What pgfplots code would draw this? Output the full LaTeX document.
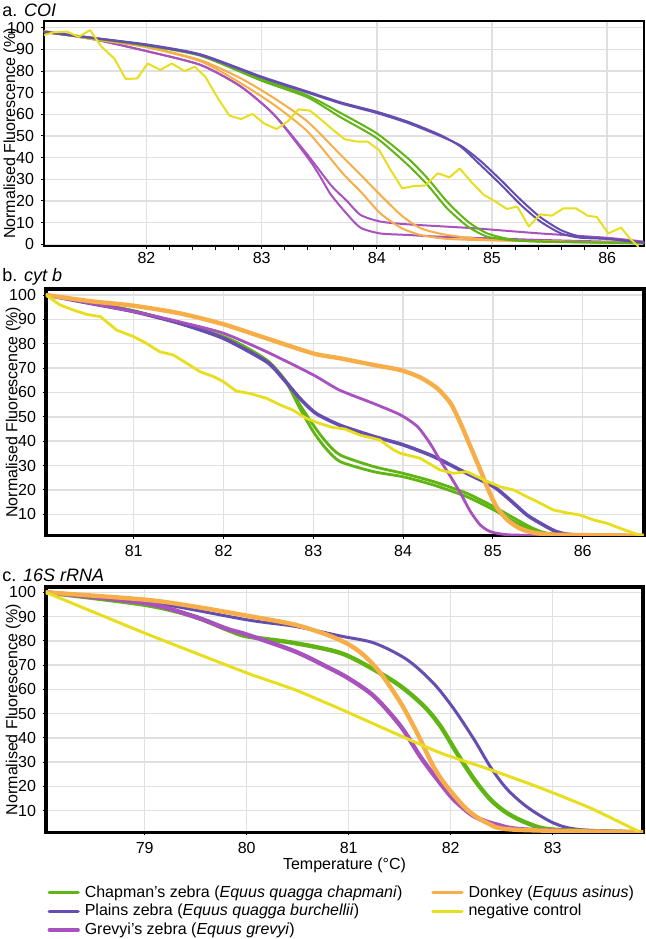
\documentclass[border=0pt]{standalone}
\usepackage{fontspec}
\setmainfont{Liberation Sans}
\usepackage{pgfplots}
\pgfplotsset{compat=1.18}
\definecolor{cgreen}{RGB}{96,180,20}
\definecolor{cplains}{RGB}{102,78,176}
\definecolor{cgrevy}{RGB}{168,82,190}
\definecolor{cdonkey}{RGB}{247,174,72}
\definecolor{cneg}{RGB}{232,222,32}
\definecolor{cgrid}{RGB}{224,224,224}
\pgfplotsset{
  melt/.style={
    scale only axis,
    anchor=south west,
    grid=major,
    major grid style={draw=cgrid, line width=0.7pt},
    axis line style={black},
    tick style={black, line width=0.5pt},
    tick align=outside,
    major tick length=1.5pt,
    xtick pos=bottom, ytick pos=left,
    tick label style={font=\fontsize{8}{9}\selectfont},
    /pgf/number format/assume math mode=true,
    ylabel={Normalised Fluorescence (\%)},
    every axis y label/.style={at={(axis description cs:-0.055,0.5)}, rotate=90, anchor=center, font=\fontsize{8}{9}\selectfont},
    every axis plot/.append style={line join=round, line cap=round},
  }
}
\begin{document}
\begin{tikzpicture}
\path[use as bounding box] (0,0) rectangle (323pt,-469.5pt);
\node[anchor=west, font=\fontsize{9}{10}\selectfont, inner sep=0pt] at (1pt,-5pt) {a. \textit{COI}};
\node[anchor=west, font=\fontsize{9}{10}\selectfont, inner sep=0pt] at (1pt,-138.5pt) {b. \textit{cyt b}};
\node[anchor=west, font=\fontsize{9}{10}\selectfont, inner sep=0pt] at (1pt,-287.5pt) {c. \textit{16S rRNA}};

% ---------------- panel a
\begin{axis}[melt, at={(22pt,-123pt)}, width=300pt, height=112.5pt,
  xmin=81.11, xmax=86.32, ymin=-0.8, ymax=103.1,
  xtick={82,83,84,85,86}, ytick={0,10,...,100},
  minor x tick num=4, minor tick length=2pt,
  xticklabel style={yshift=2pt},
  axis line style={line width=1pt},
  every axis plot/.append style={line width=1pt}]
% Grevyi
\addplot[cgrevy, smooth, tension=0.4] coordinates {(81.11,98) (81.51,95) (82,89.2) (82.47,82.8) (82.82,72.8) (83.11,59.7) (83.4,41.2) (83.6,27.4) (83.74,20) (83.86,13.5) (84.03,10.5) (84.27,9.2) (84.84,7.4) (85.42,5) (86,3) (86.32,1.2)};
\addplot[cgrevy, smooth, tension=0.4] coordinates {(81.11,98) (81.51,95) (82,89.2) (82.47,82.8) (82.82,72.8) (83.11,59.7) (83.4,40) (83.5,32) (83.6,23) (83.74,14) (83.86,7.6) (84.03,5) (84.27,4.3) (84.55,3.5) (85.42,2) (86.32,0.8)};
% Donkey
\addplot[cdonkey, smooth, tension=0.4] coordinates {(81.11,98.5) (81.5,95) (82,91.2) (82.47,85) (82.82,76.6) (83.11,67.4) (83.4,56.6) (83.7,40.5) (83.86,32) (84.03,22.8) (84.21,13.5) (84.38,7.4) (84.61,4.3) (85,2) (85.7,1.2) (86.32,0.5)};
\addplot[cdonkey, smooth, tension=0.4] coordinates {(81.11,98.5) (81.5,95) (82,91) (82.47,84.5) (82.82,74.3) (83.11,64.3) (83.4,52) (83.7,33) (83.86,24.3) (84.03,14.3) (84.21,7.6) (84.38,4.3) (84.61,2.5) (85,1.8) (86.32,0.5)};
% Chapman
\addplot[cgreen, smooth, tension=0.4] coordinates {(81.11,98) (81.5,95.5) (82,92) (82.47,87.4) (83,76.3) (83.4,68.7) (83.69,60.5) (84,51.2) (84.27,39.7) (84.44,30.5) (84.61,19.7) (84.79,10.5) (84.96,5) (85.19,2) (85.5,1.2) (86.32,0.5)};
\addplot[cgreen, smooth, tension=0.4] coordinates {(81.11,98) (81.5,95.3) (82,91.7) (82.47,87) (83,75.5) (83.4,67.8) (83.69,58.5) (84,49) (84.27,36.6) (84.44,27.4) (84.61,16.6) (84.79,8.2) (84.96,3.5) (85.19,1.8) (85.5,1.1) (86.32,0.5)};
% Plains
\addplot[cplains, smooth, tension=0.4] coordinates {(81.11,98) (81.5,95.5) (82,92.3) (82.47,87.7) (83,77.4) (83.4,70.5) (83.69,65.5) (84,61.2) (84.27,56.6) (84.55,50.5) (84.73,45) (84.9,36.6) (85.08,27.4) (85.25,18.2) (85.42,10.5) (85.6,5) (85.77,3) (86,2.5) (86.32,0.8)};
\addplot[cplains, smooth, tension=0.4] coordinates {(81.11,98.2) (81.5,95.6) (82,92) (82.47,87.3) (83,77) (83.4,70) (83.69,65) (84,60.6) (84.27,56) (84.55,50) (84.73,45.5) (84.9,38.5) (85.08,29.5) (85.25,20.5) (85.42,12.5) (85.6,6.5) (85.77,3.5) (86,2.5) (86.32,0.8)};
% negative control
\addplot[cneg] coordinates {(81.11,96.6) (81.19,97.8) (81.31,98.2) (81.41,95.8) (81.51,98.9) (81.61,91.2) (81.72,85.8) (81.82,76.3) (81.92,76.6) (82.01,83.5) (82.12,80.5) (82.22,83.5) (82.33,80) (82.42,82) (82.51,77.4) (82.62,67.4) (82.72,59.4) (82.82,57.8) (82.92,60.2) (83.02,55.8) (83.13,53.2) (83.23,56.9) (83.32,62.3) (83.42,61.7) (83.52,57.4) (83.62,52.8) (83.72,48.5) (83.83,47.4) (83.92,47.4) (84.02,43.5) (84.12,34.3) (84.22,25.8) (84.32,26.9) (84.42,27.1) (84.53,32.8) (84.63,30.9) (84.72,35) (84.83,28.2) (84.93,22.8) (85.03,19.7) (85.13,16.3) (85.22,17.4) (85.32,8.2) (85.42,13.8) (85.52,13.2) (85.62,16.6) (85.73,16.6) (85.83,13.2) (85.91,12.6) (86.01,5) (86.12,7.7) (86.2,2.5) (86.27,-1)};
\end{axis}

% ---------------- panel b
\begin{axis}[melt, at={(23pt,-267.85pt)}, width=299pt, height=123.35pt,
  xmin=80.023, xmax=86.683, ymin=1.2, ymax=102.46,
  xtick={81,82,83,84,85,86}, ytick={10,20,...,100},
  axis line style={line width=1.6pt},
  every axis plot/.append style={line width=1.4pt}]
% Chapman
\addplot[cgreen, smooth, tension=0.4] coordinates {(80.023,100) (81,93.5) (82,82.9) (82.48,73.3) (82.7,64.4) (82.85,55) (83,46.6) (83.14,39.8) (83.3,34.3) (83.67,29.6) (84,26.8) (84.34,23.4) (84.71,18.6) (85.01,13.1) (85.27,7.7) (85.45,4.2) (85.67,2) (86.683,1.2)};
\addplot[cgreen, smooth, tension=0.4] coordinates {(80.023,100) (81,93.5) (82,82.9) (82.48,73.3) (82.7,64) (82.85,53.5) (83,43.9) (83.14,37) (83.3,31.6) (83.67,27.5) (84,25.4) (84.34,22) (84.71,17.2) (85.01,11.8) (85.27,6.3) (85.45,3.6) (85.67,1.9) (86.683,1.2)};
% Plains
\addplot[cplains, line width=1.8pt, smooth, tension=0.4] coordinates {(80.023,100) (80.51,96.6) (81,93.2) (81.51,88.4) (82,82.2) (82.48,72.6) (82.66,65.8) (82.85,57.6) (83.03,51.4) (83.3,46.5) (83.67,42) (84,38.5) (84.34,33.7) (84.71,26.8) (85.01,21.3) (85.19,15.9) (85.38,9.7) (85.53,6.3) (85.7,3) (85.9,1.6) (86.683,1.2)};
% Grevyi
\addplot[cgrevy, smooth, tension=0.4] coordinates {(80.023,100) (81,93.2) (81.51,89) (82,84.3) (82.48,76.7) (83,67.2) (83.29,61) (83.67,55.5) (83.97,50.8) (84.16,46) (84.3,39.1) (84.41,32.3) (84.53,25.4) (84.64,18.6) (84.75,11.1) (84.86,5.6) (84.97,2.9) (85.16,1.6) (85.6,1.3) (86.683,1.2)};
% Donkey
\addplot[cdonkey, line width=2.2pt, smooth, tension=0.4] coordinates {(80.023,100) (80.51,97.5) (81,95.6) (81.51,92.5) (82,88) (82.48,82.2) (83,76) (83.3,74) (83.67,71.3) (83.97,69.2) (84.19,66.2) (84.38,61.7) (84.53,55.5) (84.64,47.3) (84.75,37.8) (84.86,28.2) (84.95,20) (85.04,13.1) (85.16,7.7) (85.3,4.2) (85.45,2.5) (85.7,1.6) (86.683,1.2)};
% negative control
\addplot[cneg] coordinates {(80.023,100) (80.18,95.9) (80.33,93.8) (80.48,92) (80.63,91.1) (80.81,85.6) (81,82.9) (81.14,80.2) (81.29,76.7) (81.44,75.4) (81.59,72) (81.74,68.5) (81.89,66.5) (82,64.4) (82.14,60.6) (82.29,59.6) (82.48,57.6) (82.63,54.9) (82.77,52.8) (82.92,49.4) (83.07,47.3) (83.22,45.6) (83.35,45) (83.52,42.5) (83.74,40.5) (83.89,36.5) (83.97,35) (84.19,33) (84.41,28.2) (84.56,26.8) (84.71,27.5) (84.9,24.1) (85.08,21.3) (85.23,20) (85.38,17.2) (85.53,14.5) (85.67,11.8) (85.82,10.6) (85.97,9.7) (86.12,7.7) (86.27,6.3) (86.42,4.2) (86.57,2.2) (86.66,1.2)};
\end{axis}

% ---------------- panel c
\begin{axis}[melt, at={(23pt,-416.15pt)}, width=298.5pt, height=122.65pt,
  xmin=78.032, xmax=83.885, ymin=1.1, ymax=102.2,
  xtick={79,80,81,82,83}, ytick={10,20,...,100},
  axis line style={line width=1.6pt},
  every axis plot/.append style={line width=1.5pt},
  xlabel={Temperature (°C)},
  xlabel style={font=\fontsize{8}{9}\selectfont, yshift=5pt},
  legend columns=2,
  legend cell align=left,
  legend image code/.code={\draw[#1, line width=1.6pt] (0pt,0pt) -- (14.5pt,0pt);},
  legend style={at={(0.002,-0.207)}, anchor=north west, draw=none, fill=none, inner sep=0pt,
    font=\fontsize{8}{9}\selectfont, nodes={inner ysep=1pt, inner xsep=2.5pt},
    /tikz/every even column/.append style={column sep=12pt}}]
\addlegendimage{cgreen}\addlegendentry{Chapman's zebra (\textit{Equus quagga chapmani})}
\addlegendimage{cdonkey}\addlegendentry{Donkey (\textit{Equus asinus})}
\addlegendimage{cplains}\addlegendentry{Plains zebra (\textit{Equus quagga burchellii})}
\addlegendimage{cneg}\addlegendentry{negative control}
\addlegendimage{cgrevy}\addlegendentry{Grevyi's zebra (\textit{Equus grevyi})}
% Plains
\addplot[cplains, forget plot, smooth, tension=0.5] coordinates {(78.032,100) (79,96.3) (80,88.7) (80.47,86) (80.92,82) (81.25,79.1) (81.57,72.3) (81.83,62.6) (82.03,52) (82.23,39.3) (82.39,28) (82.55,19) (82.75,11.5) (83.01,4.9) (83.27,2.2) (83.885,1.1)};
% Chapman
\addplot[cgreen, forget plot, line width=2.2pt, smooth, tension=0.5] coordinates {(78.032,100) (79,94.9) (79.48,90.1) (79.81,84.6) (80,81.9) (80.47,79.1) (80.92,75) (81.25,68.1) (81.51,61.3) (81.74,53) (81.9,44.8) (82.06,33.8) (82.23,22.9) (82.39,14.6) (82.55,9.1) (82.75,4.9) (83.01,2.2) (83.885,1.1)};
% Grevyi
\addplot[cgrevy, forget plot, line width=2.2pt, smooth, tension=0.5] coordinates {(78.032,100) (79,95.6) (79.48,90.1) (79.81,84.9) (80,82.6) (80.47,75.7) (80.8,69) (81.0,64.5) (81.25,57.1) (81.51,44.8) (81.7,32.4) (81.87,22.8) (82.03,14.6) (82.23,7.7) (82.45,4.3) (82.75,2.2) (83.885,1.1)};
% Donkey
\addplot[cdonkey, forget plot, line width=2.2pt, smooth, tension=0.5] coordinates {(78.032,100) (79,97) (79.48,94.2) (80,90.4) (80.47,86.7) (80.8,82.3) (81.0,78.5) (81.15,74) (81.31,66.8) (81.51,54.4) (81.67,42.1) (81.83,28.3) (81.96,20.1) (82.16,10.5) (82.36,4.9) (82.62,2.2) (83.885,1.1)};
% negative control
\addplot[cneg, forget plot, smooth, tension=0.3] coordinates {(78.032,100) (79,83.2) (80,66.8) (80.47,59.9) (80.92,51.9) (81.41,42.7) (81.9,33.8) (82.39,26.9) (82.88,19.4) (83.37,11.1) (83.84,1.5)};
\end{axis}
\end{tikzpicture}
\end{document}
